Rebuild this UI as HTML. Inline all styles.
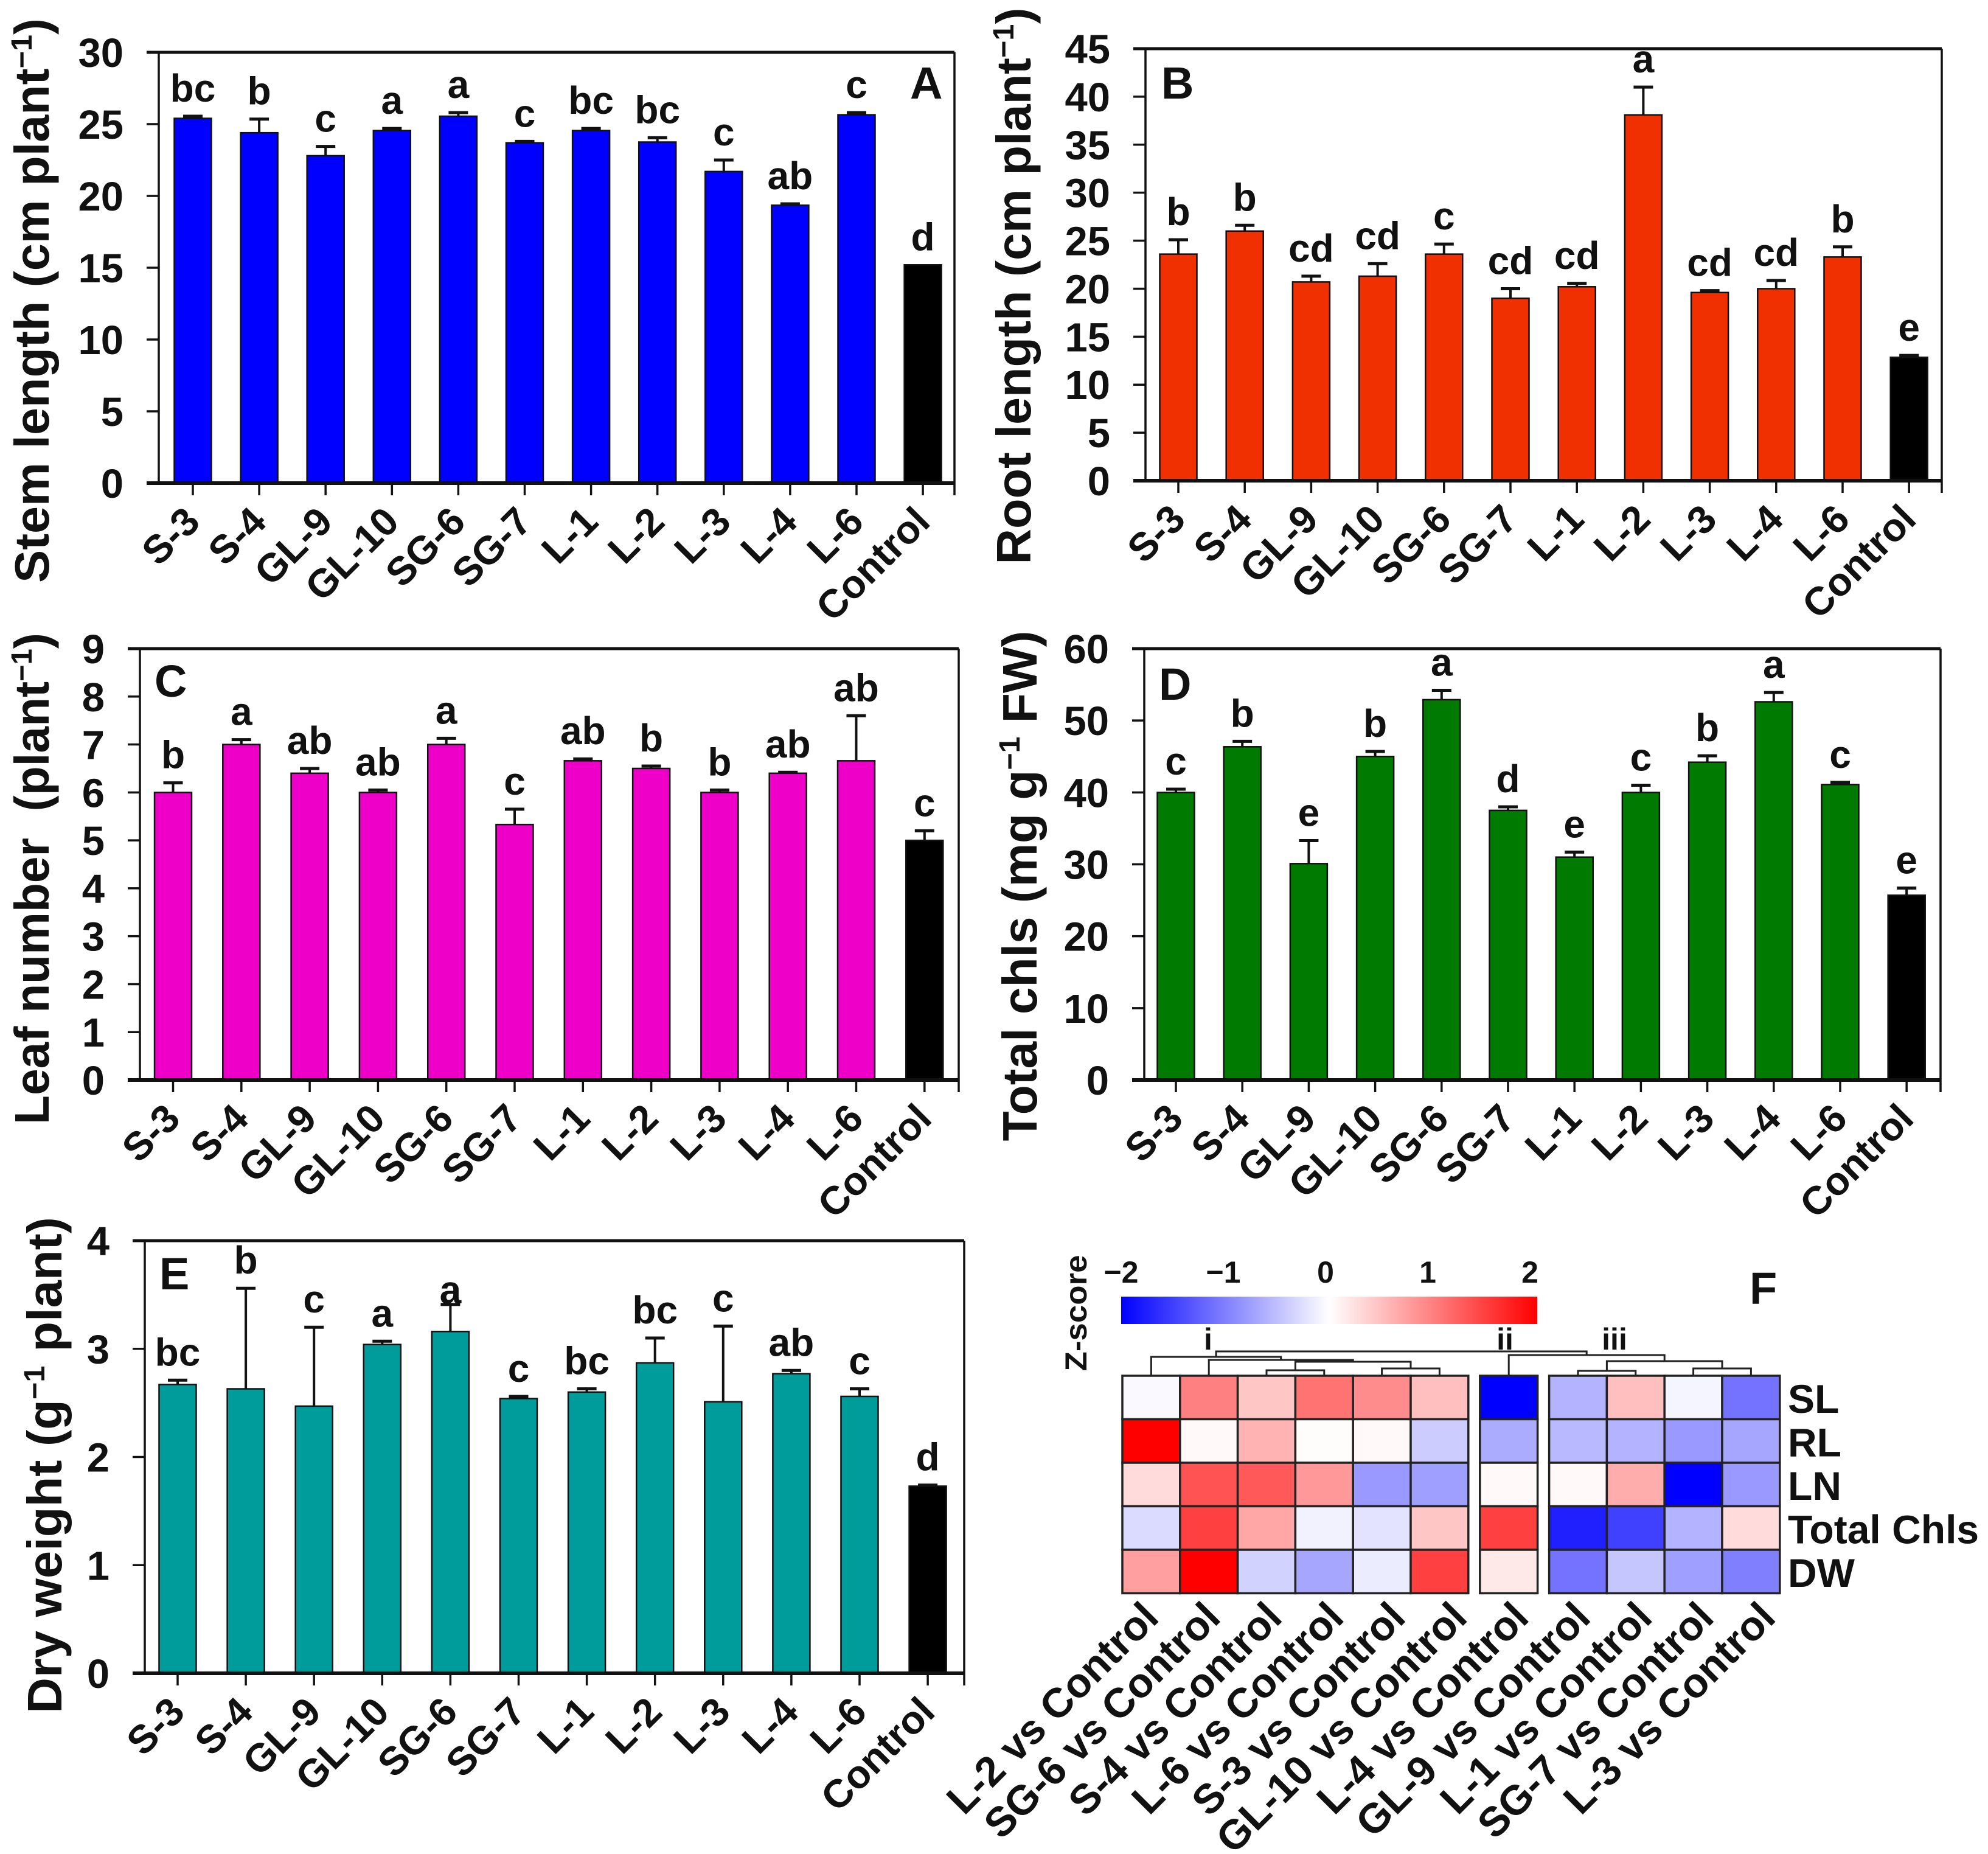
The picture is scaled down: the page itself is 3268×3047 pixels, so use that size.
<!DOCTYPE html>
<html lang="en">
<head>
<meta charset="utf-8">
<title>Growth parameters bar charts and Z-score heatmap</title>
<style>
html,body{margin:0;padding:0;background:#fff;}
svg{display:block;}
text{font-family:"Liberation Sans",Arial,sans-serif;font-weight:bold;fill:#111;}
</style>
</head>
<body>
<svg id="fig" xmlns="http://www.w3.org/2000/svg" width="3268" height="3047" viewBox="0 0 3268 3047">
<defs>
<linearGradient id="zgrad" x1="0" x2="1" y1="0" y2="0">
<stop offset="0" stop-color="#0000ff"/>
<stop offset="0.5" stop-color="#ffffff"/>
<stop offset="1" stop-color="#ff0000"/>
</linearGradient>
</defs>
<rect x="0" y="0" width="3268" height="3047" fill="#ffffff"/>
</svg>
<script>
// ---- bar chart data ----
const categories = ["S-3","S-4","GL-9","GL-10","SG-6","SG-7","L-1","L-2","L-3","L-4","L-6","Control"];

const stemValues = [25.4,24.4,22.8,24.55,25.55,23.7,24.55,23.75,21.7,19.35,25.65,15.2];
const stemErrors = [0.15,0.95,0.65,0.15,0.25,0.1,0.15,0.3,0.8,0.1,0.15,0];
const stemLetters = ["bc","b","c","a","a","c","bc","bc","c","ab","c","d"];
const stemTicks = [0,5,10,15,20,25,30];

const rootValues = [23.6,26,20.7,21.3,23.6,19,20.2,38.1,19.6,20,23.3,12.85];
const rootErrors = [1.5,0.6,0.6,1.3,1.05,1,0.35,2.9,0.2,0.85,1.05,0.2];
const rootLetters = ["b","b","cd","cd","c","cd","cd","a","cd","cd","b","e"];
const rootTicks = [0,5,10,15,20,25,30,35,40,45];

const leafValues = [6,7,6.4,6,7,5.33,6.66,6.5,6,6.4,6.66,5];
const leafErrors = [0.2,0.1,0.1,0.05,0.13,0.32,0.04,0.05,0.05,0.02,0.94,0.2];
const leafLetters = ["b","a","ab","ab","a","c","ab","b","b","ab","ab","c"];
const leafTicks = [0,1,2,3,4,5,6,7,8,9];

const chlValues = [40,46.35,30.1,45,52.9,37.5,31,40,44.2,52.6,41.1,25.7];
const chlErrors = [0.45,0.75,3.2,0.7,1.3,0.5,0.7,1,0.9,1.3,0.3,1];
const chlLetters = ["c","b","e","b","a","d","e","c","b","a","c","e"];
const chlTicks = [0,10,20,30,40,50,60];

const dryValues = [2.67,2.63,2.47,3.04,3.16,2.54,2.6,2.87,2.51,2.77,2.56,1.73];
const dryErrors = [0.04,0.93,0.73,0.03,0.25,0.02,0.03,0.23,0.7,0.03,0.07,0.01];
const dryLetters = ["bc","b","c","a","a","c","bc","bc","c","ab","c","d"];
const dryTicks = [0,1,2,3,4];

// ---- heatmap data ----
const heatColumns = ["L-2 vs Control","SG-6 vs Control","S-4 vs Control","L-6 vs Control","S-3 vs Control","GL-10 vs Control","L-4 vs Control","GL-9 vs Control","L-1 vs Control","SG-7 vs Control","L-3 vs Control"];
const heatRows = ["SL","RL","LN","Total Chls","DW"];
const slScores = [-0.05,1.0,0.45,1.1,0.9,0.5,-2,-0.6,0.5,-0.08,-1.1];
const rlScores = [2,0.05,0.6,0.02,0.05,-0.4,-0.65,-0.55,-0.6,-0.8,-0.7];
const lnScores = [0.28,1.35,1.3,0.8,-0.8,-0.75,0.05,0.05,0.65,-2,-0.8];
const chlsScores = [-0.28,1.5,0.7,-0.1,-0.22,0.45,1.5,-1.75,-1.5,-0.6,0.28];
const dwScores = [0.75,2,-0.35,-0.7,-0.15,1.5,0.18,-1.1,-0.45,-0.75,-1.0];
const heatScores = [slScores,rlScores,lnScores,chlsScores,dwScores];
const legendTicks = [-2,-1,0,1,2];
// dendrogram merges: [left node, right node, merge height]; nodes 0-10 are leaves, 11+ earlier merges
const dendroMerges = [[2,3,9],[4,5,12],[11,12,23],[1,13,26],[0,14,31],[7,8,8],[9,10,12],[16,17,24],[6,18,34],[15,19,40]];
const clusterNames = ["i","ii","iii"];
const clusterSizes = [6,1,4];

const NS = "http://www.w3.org/2000/svg";
const fig = document.getElementById("fig");

function mk(parent, tag, attrs, txt) {
  const el = document.createElementNS(NS, tag);
  for (const k in attrs) el.setAttribute(k, attrs[k]);
  if (txt !== undefined) el.textContent = txt;
  parent.appendChild(el);
  return el;
}
function fmt(v){ return String(v).replace("-", "\u2212"); }

const panels = [
  {id:"a",letter:"A",values:stemValues,errors:stemErrors,letters:stemLetters,ticks:stemTicks,color:"#0000ff",
   l:261,r:1569,t:86,b:794,cx0:317,step:109.1,
   title:["Stem length (cm plant","\u22121",")"],tx:80,ty:494,tlen:928,
   lx:1496,ly:162},
  {id:"b",letter:"B",values:rootValues,errors:rootErrors,letters:rootLetters,ticks:rootTicks,color:"#f03000",
   l:1883,r:3192,t:80,b:790,cx0:1937,step:109.2,
   title:["Root length (cm plant","\u22121",")"],tx:1694,ty:470,tlen:915,
   lx:1909,ly:162},
  {id:"c",letter:"C",values:leafValues,errors:leafErrors,letters:leafLetters,ticks:leafTicks,color:"#ee00c8",
   l:230,r:1576,t:1066,b:1775,cx0:284.5,step:112.3,
   title:["Leaf number  (plant","\u22121",")"],tx:80,ty:1444,tlen:808,
   lx:254,ly:1145},
  {id:"d",letter:"D",values:chlValues,errors:chlErrors,letters:chlLetters,ticks:chlTicks,color:"#007a00",
   l:1881,r:3190,t:1066,b:1775,cx0:1933,step:109.2,
   title:["Total chls (mg g","\u22121"," FW)"],tx:1704,ty:1456,tlen:839,
   lx:1905,ly:1150},
  {id:"e",letter:"E",values:dryValues,errors:dryErrors,letters:dryLetters,ticks:dryTicks,color:"#009c9c",
   l:238,r:1585,t:2039,b:2750,cx0:292,step:112.1,
   title:["Dry weight (g","\u22121"," plant)"],tx:101,ty:2408,tlen:816,
   lx:262,ly:2119,gapOverride:{4:2}}
];

panels.forEach(function(p){
  const g = mk(fig,"g",{});
  
  

  const ymax = p.ticks[p.ticks.length-1];
  const yScale = function(v){ return p.b - (v/ymax)*(p.b-p.t); };
  const xScale = function(i){ return p.cx0 + i*p.step; };
  const barW = 61;

  // bars + error bars + letters
  p.values.forEach(function(v,i){
    const cx = xScale(i);
    const top = yScale(v);
    const tip = yScale(v + p.errors[i]);
    const isControl = categories[i] === "Control";
    if (p.errors[i] > 0) {
      const stem = mk(g,"line",{x1:cx,x2:cx,y1:top,y2:tip,stroke:"#111",'stroke-width':4});
      
      
      const cap = mk(g,"line",{x1:cx-16,x2:cx+16,y1:tip,y2:tip,stroke:"#111",'stroke-width':5});
      
      
    }
    const bar = mk(g,"rect",{x:cx-barW/2,y:top,width:barW,height:p.b-top,fill:isControl?"#000":p.color,stroke:"#111",'stroke-width':2.5});
    
    
    const gap = (p.gapOverride && p.gapOverride[i] !== undefined) ? p.gapOverride[i] : 24;
    const lab = mk(g,"text",{x:cx,y:tip-gap,'text-anchor':'middle','font-size':64},p.letters[i]);
    
    
    const tick = mk(g,"line",{x1:cx,x2:cx,y1:p.b,y2:p.b+20,stroke:"#111",'stroke-width':3.5});
    
    
    const ax = cx+15, ay = p.b+67;
    const cat = mk(g,"text",{x:ax,y:ay,'text-anchor':'end','font-size':65,transform:'rotate(-45 '+ax+' '+ay+')'},categories[i]);
    
    
  });

  // axes frame
  const frame = [
    ['axis-top',p.l-20,p.t,p.r,p.t,5],
    ['axis-bottom',p.l-20,p.b,p.r,p.b,6],
    ['axis-left',p.l,p.t,p.l,p.b,3.5],
    ['axis-right',p.r,p.t,p.r,p.b+20,3.5]
  ];
  frame.forEach(function(f){
    const line = mk(g,"line",{x1:f[1],y1:f[2],x2:f[3],y2:f[4],stroke:"#111",'stroke-width':f[5]});
    
    
  });

  // y ticks
  p.ticks.forEach(function(t){
    const y = yScale(t);
    const tk = mk(g,"line",{x1:p.l-20,x2:p.l,y1:y,y2:y,stroke:"#111",'stroke-width':3.5});
    
    
    const lb = mk(g,"text",{x:p.l-58,y:y+24,'text-anchor':'end','font-size':67},t);
    
    
  });

  // y title
  const title = mk(g,"text",{x:0,y:0,'text-anchor':'middle','font-size':80});
  
  
  title.setAttribute('xml:space','preserve');
  title.style.whiteSpace = "pre";
  mk(title,"tspan",{},p.title[0]);
  mk(title,"tspan",{dy:-28,'font-size':48},p.title[1]);
  mk(title,"tspan",{dy:28},p.title[2]);
  const len = title.getComputedTextLength() || p.tlen;
  title.setAttribute('transform','translate('+p.tx+' '+p.ty+') rotate(-90) scale('+(p.tlen/len)+' 1)');

  // panel letter
  const pl = mk(g,"text",{x:p.lx,y:p.ly,'font-size':74},p.letter);
  
  
});

// ---- heatmap panel F ----
const hg = mk(fig,"g",{});



const cellW = 94.8;
const groupGap = 19;
const heatLeft = 1845;
const heatTop = 2261;
const cellH = 71.5;

function colLeft(i){
  let gaps = 0, acc = 0;
  clusterSizes.forEach(function(s){ acc += s; if (i >= acc) gaps++; });
  return heatLeft + i*cellW + gaps*groupGap;
}
function colCenter(i){ return colLeft(i) + cellW/2; }
function rowTop(j){ return heatTop + j*cellH; }
function heatColor(z){
  const t = Math.min(1,Math.abs(z)/2);
  const c = Math.round(255*(1-t));
  return z >= 0 ? 'rgb(255,'+c+','+c+')' : 'rgb('+c+','+c+',255)';
}

heatScores.forEach(function(row,j){
  row.forEach(function(z,i){
    const cell = mk(hg,"rect",{x:colLeft(i),y:rowTop(j),width:cellW,height:cellH,fill:heatColor(z),stroke:"#222",'stroke-width':3.5});
    
    
  });
  const rl = mk(hg,"text",{x:2939,y:rowTop(j)+cellH/2+25,'font-size':66},heatRows[j]);
  
  
});

heatColumns.forEach(function(name,i){
  const ax = 1908 + i*101.4, ay = 2662;
  const t = mk(hg,"text",{x:ax,y:ay,'text-anchor':'end','font-size':68,transform:'rotate(-45 '+ax+' '+ay+')'},name);
  
  
});

// dendrogram
const nodes = heatColumns.map(function(_,i){ return {x:colCenter(i),h:0}; });
dendroMerges.forEach(function(m,k){
  const a = nodes[m[0]], b = nodes[m[1]], h = m[2];
  const base = heatTop;
  const path = mk(hg,"path",{d:'M'+a.x+' '+(base-a.h)+'V'+(base-h)+'H'+b.x+'V'+(base-b.h),fill:'none',stroke:'#222','stroke-width':3});
  
  
  nodes.push({x:(a.x+b.x)/2,h:h});
});

const clusterX = [1986,2474,2654];
clusterNames.forEach(function(n,i){
  const t = mk(hg,"text",{x:clusterX[i],y:2218,'text-anchor':'middle','font-size':50},n);
  
  
});

// color legend
const barX0 = 1843, barX1 = 2527;
const cb = mk(hg,"rect",{x:barX0,y:2131,width:barX1-barX0,height:45,fill:'url(#zgrad)'});


legendTicks.forEach(function(v){
  const x = 1843 + (v+2)*168;
  const t = mk(hg,"text",{x:x,y:2108,'text-anchor':'middle','font-size':50},fmt(v));
  
  
});
const zt = mk(hg,"text",{x:0,y:0,'text-anchor':'middle','font-size':50},"Z-score");


const zl = zt.getComputedTextLength() || 191;
zt.setAttribute('transform','translate(1786 2158) rotate(-90) scale('+(191/zl)+' 1)');

const fl = mk(hg,"text",{x:2876,y:2143,'font-size':74},"F");


</script>
</body>
</html>
